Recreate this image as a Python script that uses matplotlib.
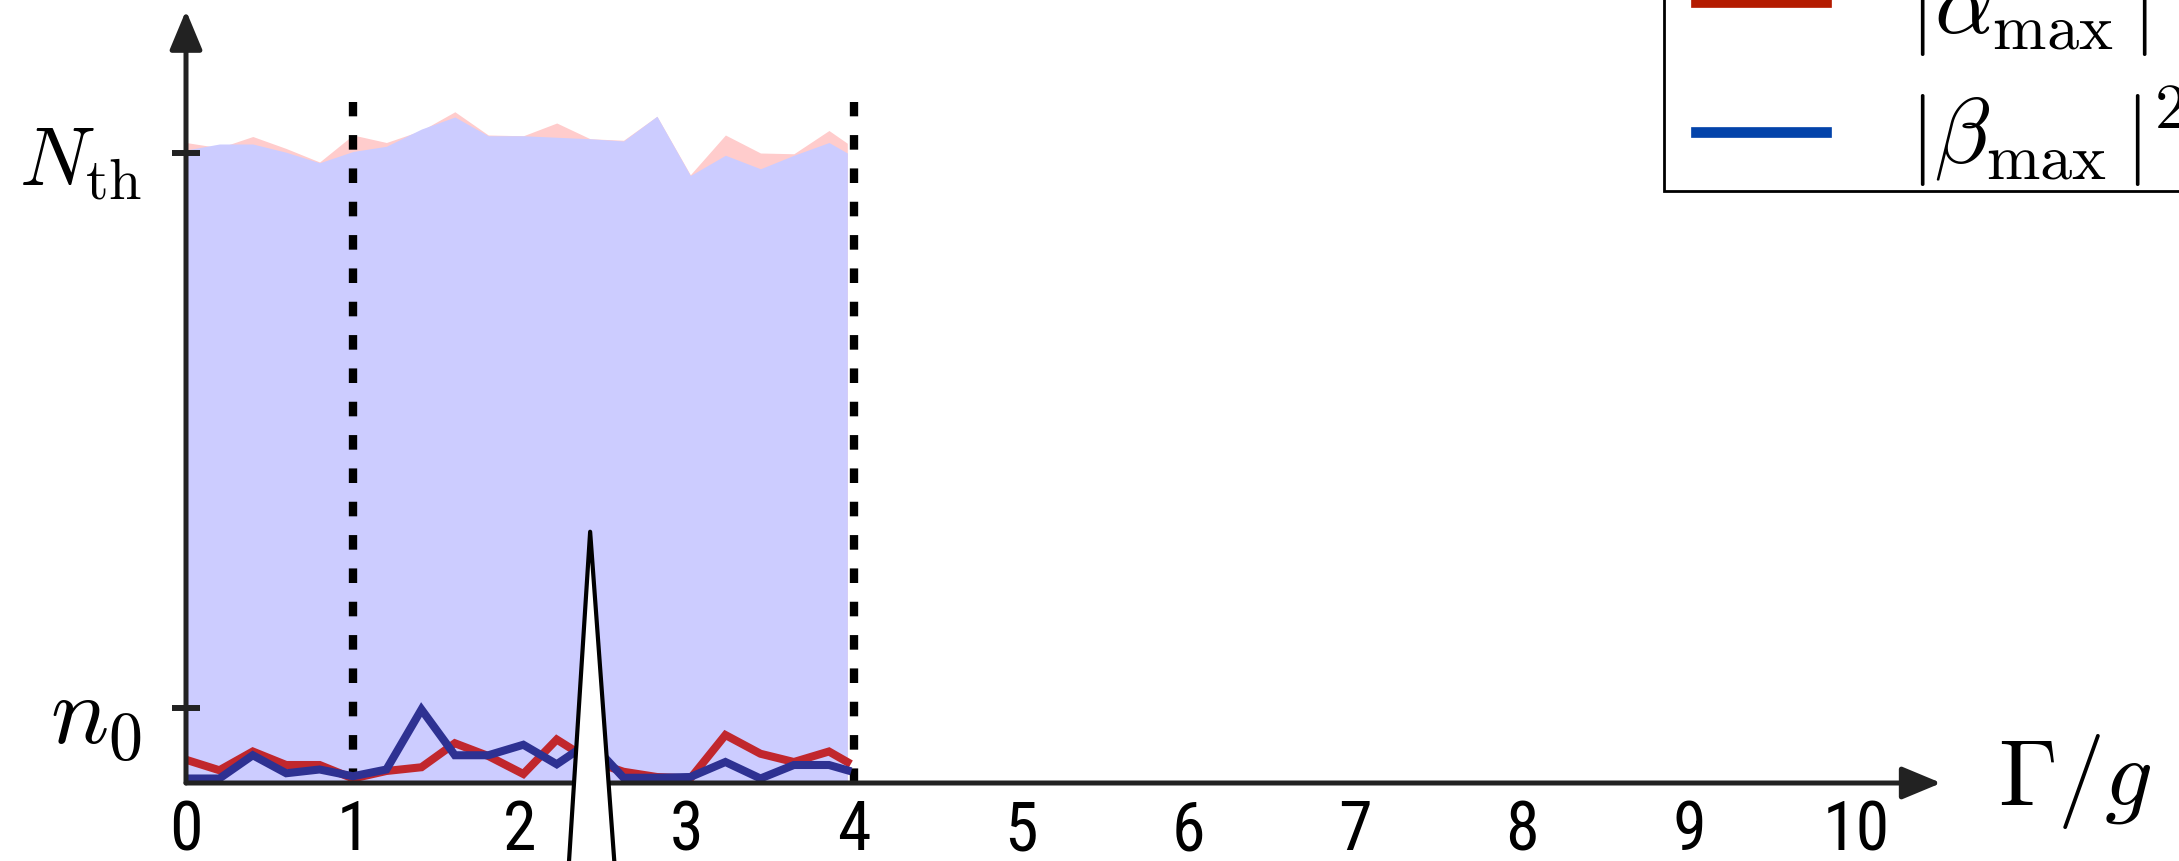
import matplotlib
matplotlib.use("Agg")
import matplotlib.pyplot as plt
from matplotlib import font_manager as fm
from matplotlib.lines import Line2D
from matplotlib.legend_handler import HandlerLine2D

# ---- data -------------------------------------------------------------
gamma = [0.0, 0.2, 0.4, 0.6, 0.8, 1.0, 1.2, 1.41, 1.61, 1.81, 2.02,
         2.22, 2.42, 2.62, 2.82, 3.02, 3.23, 3.44, 3.64, 3.85, 3.96]

alpha_max = [0.31, 0.17, 0.42, 0.24, 0.24, 0.06, 0.16, 0.21, 0.53, 0.36, 0.12,
             0.58, 0.30, 0.15, 0.08, 0.06, 0.64, 0.39, 0.28, 0.42, 0.28]
beta_max = [0.06, 0.06, 0.37, 0.13, 0.18, 0.09, 0.18, 0.98, 0.37, 0.37, 0.51,
            0.25, 0.55, 0.07, 0.07, 0.08, 0.28, 0.06, 0.24, 0.24, 0.17]

alpha_band = [8.54, 8.47, 8.62, 8.46, 8.28, 8.64, 8.54, 8.70, 8.95, 8.64, 8.63,
              8.80, 8.59, 8.57, 8.89, 8.11, 8.64, 8.40, 8.39, 8.70, 8.53]
beta_band = [8.44, 8.52, 8.52, 8.41, 8.27, 8.42, 8.49, 8.72, 8.88, 8.63, 8.63,
             8.61, 8.59, 8.56, 8.89, 8.10, 8.37, 8.19, 8.37, 8.54, 8.40]

n0 = 1.0
n_th = 8.4
boundaries = [1.0, 4.0]
xtick_values = [0, 1, 2, 3, 4, 5, 6, 7, 8, 9, 10]
xtick_labels = ["0", "1", "2", "3", "4", "5", "6", "7", "8", "9", "10"]
marked_ticks = [0, 1, 2, 3, 4]
legend_labels = [r"$|\alpha_{\mathrm{max}}\,|^2$", r"$|\beta_{\mathrm{max}}\,|^2$"]

# ---- fonts ------------------------------------------------------------
plt.rcParams["mathtext.fontset"] = "cm"
available = {f.name for f in fm.fontManager.ttflist}
narrow = "DejaVu Sans"
for cand in ["Liberation Sans Narrow", "Roboto Condensed", "Open Sans Condensed",
             "Liberation Sans"]:
    if cand in available:
        narrow = cand
        break

# ---- figure -----------------------------------------------------------
W, H = 2179, 861
fig = plt.figure(figsize=(W / 100, H / 100), dpi=100)
x0_px, y0_px = 186, 783
ux, uy = 167.0, 75.0
xmax, ymax = 10.6, 10.2
ax = fig.add_axes([x0_px / W, (H - y0_px) / H, xmax * ux / W, ymax * uy / H])
ax.set_xlim(0, xmax)
ax.set_ylim(0, ymax)
for s in ax.spines.values():
    s.set_visible(False)

axis_col = "#222222"

# shaded bands
ax.fill_between(gamma, 0, alpha_band, color="#FFCCCC", lw=0, zorder=1)
ax.fill_between(gamma, 0, beta_band, color="#CCCCFF", lw=0, zorder=1.1)

# regime boundaries
top_frac = 9.08 / ymax
for b in boundaries:
    ax.axvline(b, 0, top_frac, color="black", lw=6.0,
               linestyle=(0, (1.75, 2.25)), zorder=1.5)

# curves
ax.plot(gamma, alpha_max, color="#C1272D", lw=5.8, zorder=2,
        solid_joinstyle="miter")
ax.plot(gamma, beta_max, color="#2E3192", lw=5.8, zorder=2.1,
        solid_joinstyle="miter")

# axes with arrow heads
arrow_kw = dict(arrowstyle="-|>,head_length=0.6,head_width=0.25",
                lw=3.6, color=axis_col, shrinkA=0, shrinkB=0, mutation_scale=40)
ax.annotate("", xy=(10.51, 0), xytext=(0, 0), arrowprops=arrow_kw,
            annotation_clip=False, zorder=3)
ax.annotate("", xy=(0, 10.3), xytext=(0, 0), arrowprops=arrow_kw,
            annotation_clip=False, zorder=3)

# ticks
ax.set_xticks(xtick_values)
ax.set_xticklabels(xtick_labels, fontfamily=narrow, fontsize=49)
ax.tick_params(axis="x", which="major", length=0, pad=11)
ax.set_xticks(marked_ticks, minor=True)
ax.tick_params(axis="x", which="minor", direction="in", length=18, width=3.6,
               color=axis_col)

ax.set_yticks([n0, n_th])
ax.set_yticklabels([r"$n_0$", r"$N_{\mathrm{th}}$"])
ylabels = ax.get_yticklabels()
ylabels[0].set_fontsize(70)
ylabels[1].set_fontsize(60)
ax.tick_params(axis="y", direction="inout", length=19.5, width=4.3,
               color=axis_col, pad=22)

# axis label
ax.text(10.85, -0.29, r"$\Gamma/g$", fontsize=68, ha="left", va="baseline",
        clip_on=False)

# pointer wedge
ax.annotate("", xy=(2.42, 3.35), xytext=(2.43, -1.5),
            arrowprops=dict(arrowstyle="wedge,tail_width=1.0,shrink_factor=0.5",
                            fc="white", ec="black", lw=3.0,
                            shrinkA=0, shrinkB=0, mutation_scale=36),
            annotation_clip=False, zorder=5)

# legend
handles = [Line2D([], [], color="#B41B00", lw=7.7),
           Line2D([], [], color="#0343AA", lw=7.7)]
leg = fig.legend(handles, legend_labels, loc="lower left",
                 bbox_to_anchor=(1664 / W, (H - 191) / H), borderaxespad=0,
                 fontsize=66, frameon=True, fancybox=False, framealpha=1,
                 edgecolor="black", handlelength=1.75, handletextpad=0.9,
                 labelspacing=0.27, borderpad=0.02,
                 handler_map={Line2D: HandlerLine2D(xpad=0.33)})
leg.get_frame().set_linewidth(2.0)

fig.savefig("out.png", dpi=100)
